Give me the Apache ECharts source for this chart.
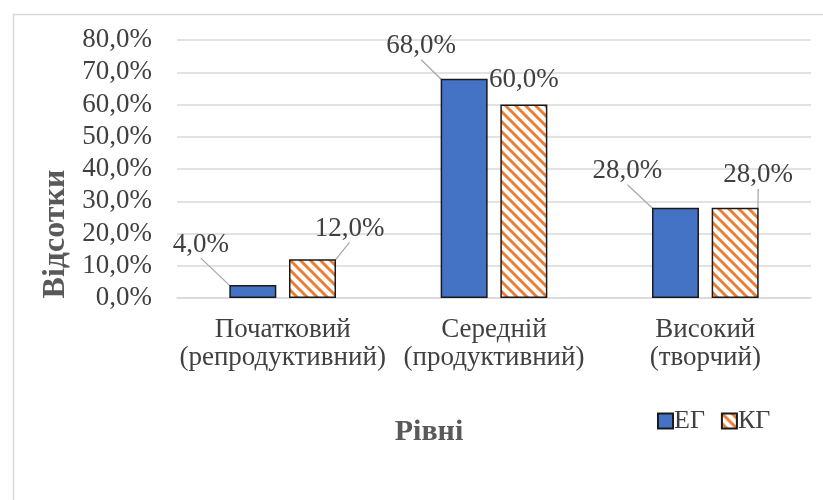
<!DOCTYPE html>
<html>
<head>
<meta charset="utf-8">
<script src="https://cdn.jsdelivr.net/npm/echarts@6/dist/echarts.min.js"></script>
<style>
html,body{margin:0;padding:0;background:#fff;}
#chart{width:823px;height:500px;}
</style>
</head>
<body>
<div id="chart"></div>
<script>
const categories = ['Початковий\n(репродуктивний)', 'Середній\n(продуктивний)', 'Високий\n(творчий)'];
const seriesNames = ['ЕГ', 'КГ'];
const egValues = [4.0, 68.0, 28.0];
const kgValues = [12.0, 60.0, 28.0];
const yTicks = [0, 10, 20, 30, 40, 50, 60, 70, 80];
const xAxisTitle = 'Рівні';
const yAxisTitle = 'Відсотки';

// label offsets (style only)
const egLabelShift = [[-52, -22], [-43, -14], [-48, -18]];
const kgLabelShift = [[37, -12], [0, -6], [23, -14]];

function makeHatch() {
  const c = document.createElement('canvas');
  const s = 10;
  c.width = s; c.height = s;
  const ctx = c.getContext('2d');
  ctx.fillStyle = '#ffffff';
  ctx.fillRect(0, 0, s, s);
  ctx.strokeStyle = '#ED7D31';
  ctx.lineWidth = 3;
  ctx.beginPath();
  for (let k = -1; k <= 1; k++) {
    ctx.moveTo(k * s - 2, -2);
    ctx.lineTo(k * s + s + 2, s + 2);
  }
  ctx.stroke();
  return c;
}
const hatch = makeHatch();

const font = 'Liberation Serif';
const txt = '#404040';
const fmt = v => v.toFixed(1).replace('.', ',') + '%';

const chart = echarts.init(document.getElementById('chart'), null, {renderer: 'canvas'});
chart.setOption({
  animation: false,
  backgroundColor: '#fff',
  grid: {left: 177, right: 12, top: 40, bottom: 202, containLabel: false},
  legend: {
    data: seriesNames,
    icon: 'rect',
    left: 652, top: 403,
    itemWidth: 15, itemHeight: 15, itemGap: 16,
    textStyle: {fontFamily: font, fontSize: 26, lineHeight: 26, color: txt, padding: [0, 0, 0, -4]}
  },
  graphic: [
    {type: 'rect', left: 11, top: 12, shape: {width: 830, height: 500}, style: {fill: 'none', stroke: '#d9d9d9', lineWidth: 1.5}, silent: true, z: -1},
    {type: 'text', x: 429, y: 432, style: {text: xAxisTitle, fontFamily: font, fontSize: 30, fontWeight: 'bold', fill: '#595959', align: 'center', verticalAlign: 'middle'}},
    {type: 'text', x: 56, y: 234, rotation: Math.PI / 2, style: {text: yAxisTitle, fontFamily: font, fontSize: 32, fontWeight: 'bold', fill: '#595959', align: 'center', verticalAlign: 'middle'}}
  ],
  xAxis: {
    type: 'category',
    data: categories,
    axisLine: {show: true, lineStyle: {color: '#d9d9d9', width: 1.5}},
    axisTick: {show: false},
    axisLabel: {fontFamily: font, fontSize: 27, color: txt, lineHeight: 28, margin: 18, interval: 0}
  },
  yAxis: {
    type: 'value',
    min: yTicks[0], max: yTicks[yTicks.length - 1], interval: 10,
    axisLine: {show: false},
    axisTick: {show: false},
    splitLine: {lineStyle: {color: '#d9d9d9', width: 1.5}},
    axisLabel: {fontFamily: font, fontSize: 27, color: txt, margin: 25, formatter: v => fmt(v)}
  },
  series: [
    {
      name: seriesNames[0], type: 'bar', data: egValues,
      barWidth: 47, barGap: '27%',
      itemStyle: {color: '#4472C4', borderColor: '#1a1a1a', borderWidth: 1.5},
      label: {show: true, position: 'top', fontFamily: font, fontSize: 27, color: txt, formatter: p => fmt(p.value)},
      labelLine: {show: true, lineStyle: {color: '#a6a6a6', width: 1.2}},
      labelLayout: p => ({dx: egLabelShift[p.dataIndex][0], dy: egLabelShift[p.dataIndex][1]})
    },
    {
      name: seriesNames[1], type: 'bar',
      data: kgValues.map((v, i) => i === 1 ? {value: v, labelLine: {show: false}} : v),
      barWidth: 47,
      itemStyle: {color: {image: hatch, repeat: 'repeat'}, borderColor: '#1a1a1a', borderWidth: 1.5},
      label: {show: true, position: 'top', fontFamily: font, fontSize: 27, color: txt, formatter: p => fmt(p.value)},
      labelLine: {show: true, lineStyle: {color: '#a6a6a6', width: 1.2}},
      labelLayout: p => ({dx: kgLabelShift[p.dataIndex][0], dy: kgLabelShift[p.dataIndex][1]})
    }
  ]
});
</script>
</body>
</html>
